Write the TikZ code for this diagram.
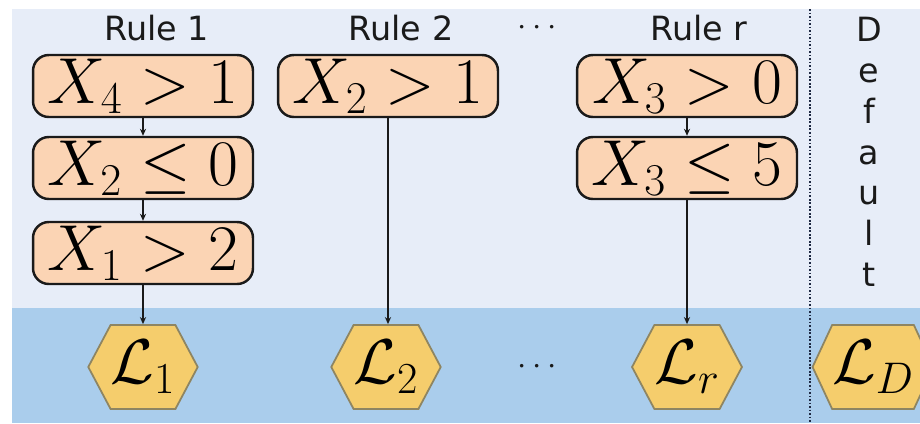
\RequirePackage{fix-cm}
\documentclass[tikz,border=0pt]{standalone}
\usepackage{amsmath,amssymb}
\usepackage{fontspec}
\usepackage{tikz}
\usetikzlibrary{arrows.meta,shapes.symbols}
\newfontfamily\labfont{DejaVu Sans}
\definecolor{panel}{HTML}{E7EDF8}
\definecolor{band}{HTML}{AACDEC}
\definecolor{condfill}{HTML}{FBD4B4}
\definecolor{leaffill}{HTML}{F5CD6C}
\definecolor{leafedge}{HTML}{8E8562}
\definecolor{ink}{HTML}{1A1A1A}
\definecolor{sep}{HTML}{1F2A44}
\tikzset{
  cond/.style={draw=ink, fill=condfill, line width=1.4pt, rounded corners=9pt,
    minimum width=4.4cm, minimum height=1.24cm, inner sep=0pt,
    font=\fontsize{37}{40}\selectfont},
  leaf/.style={signal, signal to=east and west, signal pointer angle=124,
    draw=leafedge, fill=leaffill, line width=1pt, minimum width=2.16cm,
    minimum height=1.68cm, inner sep=0pt, font=\fontsize{36}{40}\selectfont},
  link/.style={draw=ink, line width=0.9pt, -{Stealth[length=4pt,width=3.5pt]}},
  lab/.style={text=ink, font=\labfont\fontsize{19}{23.2}\selectfont},
}
\begin{document}
\begin{tikzpicture}[x=0.02cm, y=-0.02cm]
  \useasboundingbox (0,0) rectangle (920,423);
  % panels
  \fill[white] (0,0) rectangle (920,423);
  \fill[panel] (12,9) rectangle (920,308);
  \fill[band] (12,308) rectangle (920,423);
  \draw[sep, line width=1.6pt, dash pattern=on 1pt off 1pt] (810,9) -- (810,423);

  % column headers
  \node[lab] (h1) at (157,28) {Rule 1};
  \node[lab] (h2) at (401,28) {Rule 2};
  \node[lab] (hd) at (540,28) {$\cdots$};
  \node[lab] (hr) at (699,28) {Rule r};
  \node[lab, align=center] (hdef) at (869,152) {D\\e\\f\\a\\u\\l\\t};

  % rule conditions
  \node[cond] (c11) at (143,86) {$X_4 > 1$};
  \node[cond] (c12) at (143,168) {$X_2 \leq 0$};
  \node[cond] (c13) at (143,253) {$X_1 > 2$};
  \node[cond] (c21) at (388,86) {$X_2 > 1$};
  \node[cond] (cr1) at (687,86) {$X_3 > 0$};
  \node[cond] (cr2) at (687,168) {$X_3 \leq 5$};

  % leaves
  \node[leaf] (l1) at (143,367) {$\mathcal{L}_1$};
  \node[leaf] (l2) at (386,367) {$\mathcal{L}_2$};
  \node[lab] (ld) at (540,367) {$\cdots$};
  \node[leaf] (lr) at (687,367) {$\mathcal{L}_r$};
  \node[leaf, signal pointer angle=130] (lD) at (873,367) {$\mathcal{L}_D$};

  % links
  \draw[link] (c11) -- (c12);
  \draw[link] (c12) -- (c13);
  \draw[link] (c13) -- (l1);
  \draw[link] (c21.south) -- (c21.south |- l2.north);
  \draw[link] (cr1) -- (cr2);
  \draw[link] (cr2) -- (lr);
\end{tikzpicture}
\end{document}
